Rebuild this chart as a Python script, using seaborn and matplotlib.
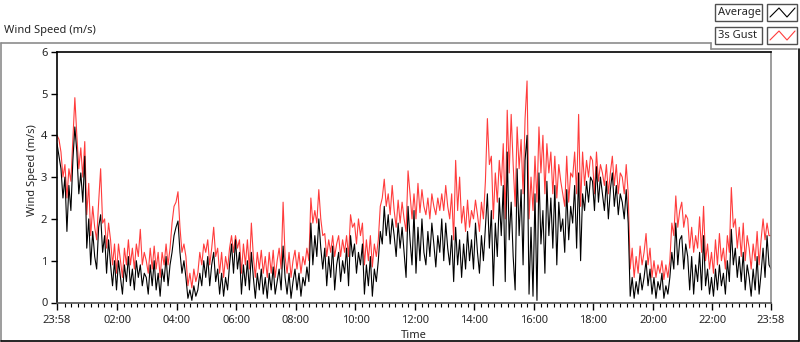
import matplotlib
matplotlib.use("Agg")
import matplotlib.pyplot as plt
from matplotlib.lines import Line2D
from matplotlib.patches import Rectangle
import seaborn as sns
import pandas as pd
import numpy as np

# wind speed samples, one every 4 minutes starting at 23:58 (m/s)
sample_step_min = 4

average = [
    3.8, 3.5, 3.2, 2.5, 3.0, 1.7, 2.8, 2.2, 3.4, 4.2, 3.6, 2.6, 3.1, 2.4, 3.5,
    1.3, 2.0, 0.9, 1.7, 1.1, 0.8, 1.8, 2.1, 1.2, 1.6, 0.7, 1.5, 0.9, 0.4, 1.0,
    0.3, 1.0, 0.6, 0.2, 0.9, 0.5, 1.1, 0.4, 0.8, 0.3, 1.0, 0.6, 0.9, 0.4, 0.7,
    0.6, 0.2, 0.9, 0.4, 1.0, 0.3, 0.7, 0.15, 0.8, 0.5, 1.1, 0.4, 0.9, 1.2, 1.6,
    1.8, 1.95, 1.2, 0.7, 1.0, 0.6, 0.1, 0.3, 0.05, 0.4, 0.15, 0.3, 0.7, 0.4, 1.0,
    0.6, 1.1, 0.4, 0.9, 1.2, 0.5, 0.8, 0.2, 0.7, 0.15, 0.6, 0.3, 0.9, 1.4, 0.7,
    1.5, 0.8, 1.2, 0.2, 0.9, 0.4, 1.0, 0.3, 1.2, 0.6, 0.1, 0.7, 0.3, 0.8, 0.2,
    0.6, 0.1, 0.7, 0.3, 0.85, 0.2, 0.5, 0.8, 0.3, 1.35, 0.6, 0.2, 0.7, 0.1, 0.5,
    0.8, 0.3, 0.7, 0.15, 0.6, 0.4, 0.85, 0.5, 1.9, 0.9, 1.6, 1.1, 2.0, 1.3, 0.8,
    1.3, 0.4, 1.1, 0.6, 1.35, 0.3, 0.9, 1.2, 0.5, 1.0, 0.7, 1.3, 0.4, 1.6, 1.1,
    1.4, 0.7, 1.2, 0.9, 1.4, 0.2, 0.9, 0.4, 1.1, 0.15, 0.8, 0.5, 1.0, 1.7, 1.4,
    2.3, 1.6, 2.1, 1.4, 2.0, 1.6, 1.1, 1.9, 1.3, 1.8, 1.2, 0.6, 2.3, 1.5, 0.9,
    2.2, 0.7, 1.8, 1.0, 2.0, 1.2, 0.9, 1.7, 1.1, 1.9, 1.4, 0.85, 1.6, 1.2, 2.0,
    1.0, 1.9, 1.3, 0.9, 1.6, 0.5, 1.8, 0.9, 1.5, 0.6, 1.4, 0.8, 1.7, 1.0, 1.5,
    0.8, 1.9, 1.2, 0.7, 1.6, 1.0, 1.8, 2.6, 1.3, 2.2, 0.4, 1.9, 1.1, 2.5, 1.6,
    2.8, 0.5, 3.6, 1.5, 2.4, 1.1, 0.3, 3.2, 1.6, 2.7, 0.9, 3.4, 4.0, 0.2, 1.8,
    0.15, 2.6, 0.05, 3.1, 1.4, 2.2, 0.7, 2.9, 1.6, 2.5, 1.3, 2.8, 0.9, 2.4, 1.7,
    2.0, 1.2, 2.7, 1.5, 2.3, 1.9, 2.8, 1.3, 3.1, 1.0, 2.6, 2.2, 2.9, 2.4, 3.0,
    2.9, 2.2, 3.25, 2.4, 3.0, 2.6, 2.2, 2.9, 2.0, 2.7, 3.1, 2.3, 2.8, 2.1, 2.6,
    2.4, 2.0, 2.7, 1.9, 0.15, 0.6, 0.1, 0.5, 0.2, 0.7, 0.3, 0.6, 1.0, 0.4, 0.8,
    0.2, 0.6, 0.1, 0.5, 0.3, 0.7, 0.1, 0.4, 0.2, 0.6, 1.2, 0.8, 1.9, 0.9, 1.5,
    1.6, 0.8, 1.4, 1.1, 0.3, 1.1, 0.2, 0.9, 0.5, 1.2, 0.3, 1.6, 0.4, 0.8, 0.2,
    0.6, 0.15, 0.8, 0.3, 0.9, 0.4, 0.7, 0.2, 1.0, 0.5, 1.75, 0.9, 1.3, 0.6, 1.1,
    0.5, 1.2, 0.3, 0.9, 0.6, 0.15, 0.8, 0.3, 1.1, 0.2, 0.7, 1.3, 0.6, 1.6, 0.9,
    0.8,
]

gust = [
    4.0, 3.9, 3.6, 3.0, 3.3, 2.5, 3.2, 2.9, 3.9, 4.9, 4.0, 3.2, 3.7, 3.0, 3.85,
    2.1, 2.85, 1.6, 2.3, 1.8, 1.5, 2.4, 3.2, 1.9, 2.0, 1.3, 1.9, 1.5, 0.9, 1.4,
    0.7, 1.4, 1.0, 0.6, 1.3, 0.9, 1.5, 0.9, 1.3, 0.8, 1.4, 1.1, 1.75, 0.9, 1.2,
    1.0, 0.7, 1.3, 0.8, 1.35, 0.8, 1.2, 0.6, 1.2, 0.9, 1.4, 0.9, 1.3, 1.9, 2.3,
    2.4, 2.65, 1.8, 1.2, 1.4, 1.1, 0.4, 0.7, 0.35, 0.8, 0.5, 0.7, 1.2, 0.9, 1.4,
    1.2, 1.5, 0.9, 1.3, 1.8, 1.1, 1.3, 0.7, 1.2, 0.6, 1.1, 0.8, 1.3, 1.6, 1.2,
    1.6, 1.3, 1.5, 0.7, 1.4, 0.9, 1.5, 0.8, 1.9, 1.1, 0.6, 1.2, 0.8, 1.25, 0.7,
    1.1, 0.6, 1.2, 0.7, 1.25, 0.6, 1.0, 1.3, 0.8, 2.4, 1.1, 0.7, 1.2, 0.6, 1.0,
    1.25, 0.8, 1.2, 0.7, 1.1, 0.9, 1.3, 1.0, 2.5, 1.9, 2.2, 1.9, 2.7, 2.0, 1.6,
    1.65, 1.1, 1.5, 1.2, 1.6, 1.1, 1.4, 1.6, 1.1, 1.5, 1.2, 1.6, 1.1, 2.1, 1.8,
    1.9, 1.4, 2.0, 1.6, 1.9, 0.9, 1.5, 1.0, 1.6, 0.85, 1.4, 1.1, 1.5, 2.3, 2.5,
    2.95, 2.3, 2.6, 2.1, 2.8, 2.2, 1.8, 2.45, 1.9, 2.4, 2.0, 1.7, 3.15, 2.6, 2.0,
    2.6, 2.0, 2.85, 2.15, 2.7, 2.3, 2.1, 2.5, 2.0, 2.6, 2.3, 2.1, 2.5, 2.2, 2.6,
    2.2, 2.8, 2.3, 2.0, 2.6, 1.5, 3.4, 2.2, 3.0, 1.9, 2.3, 1.7, 2.45, 1.8, 2.2,
    2.0, 2.45, 2.1, 1.7, 2.4, 2.0, 2.9, 4.4, 3.3, 3.5, 2.0, 3.1, 2.4, 3.4, 2.8,
    3.8, 2.0, 4.6, 3.1, 4.5, 3.3, 2.3, 4.2, 3.2, 3.9, 2.6, 4.4, 5.3, 2.0, 3.0,
    2.2, 3.5, 2.4, 4.2, 3.1, 4.0, 2.6, 3.8, 3.1, 3.6, 2.6, 3.5, 2.5, 3.3, 2.9,
    2.6, 2.3, 3.5, 2.4, 3.1, 3.0, 3.6, 2.6, 4.5, 2.3, 3.6, 2.8, 3.4, 3.0, 3.5,
    3.4, 2.6, 3.6, 2.9, 3.3, 3.1, 2.8, 3.3, 2.6, 3.1, 3.5, 2.8, 3.3, 2.6, 3.1,
    3.0, 2.6, 3.3, 2.6, 0.8, 1.3, 0.6, 1.1, 0.7, 1.35, 0.9, 1.2, 1.65, 0.9, 1.3,
    0.6, 1.0, 0.6, 0.9, 0.7, 1.0, 0.55, 0.9, 0.6, 1.0, 1.9, 1.6, 2.55, 1.8, 2.2,
    2.4, 1.8, 2.1, 2.0, 1.3, 1.8, 1.2, 1.6, 1.3, 2.05, 1.2, 2.3, 1.0, 1.4, 0.8,
    1.2, 0.7, 1.5, 0.9, 1.65, 1.0, 1.3, 0.8, 1.6, 1.2, 2.75, 1.8, 2.0, 1.3, 1.8,
    1.1, 1.9, 1.0, 1.6, 1.3, 0.8, 1.4, 1.0, 1.7, 0.9, 1.5, 2.0, 1.5, 1.9, 1.6,
    1.6,
]

start_label = '23:58'
tick_labels = ['23:58', '02:00', '04:00', '06:00', '08:00', '10:00', '12:00',
               '14:00', '16:00', '18:00', '20:00', '22:00', '23:58']
y_ticks = [0, 1, 2, 3, 4, 5, 6]

W, H = 800, 342


def fig_xy(x, y):
    # pixel position (from top-left) -> figure fraction
    return x / W, 1 - y / H


def to_hours(label, first=False):
    h, m = map(int, label.split(':'))
    sh, sm = map(int, start_label.split(':'))
    diff = ((h * 60 + m) - (sh * 60 + sm)) % 1440
    if diff == 0 and not first:
        diff = 1440
    return diff / 60


hours = np.arange(len(average)) * sample_step_min / 60
df = pd.DataFrame({'hours': hours, 'Average': average, '3s Gust': gust})

sns.set_style('white')
plt.rcParams['font.family'] = ['Noto Sans', 'DejaVu Sans']

fig = plt.figure(figsize=(W / 100, H / 100), dpi=100)
ax = fig.add_axes([57 / W, 1 - 302.5 / H, 714 / W, (302.5 - 51.7) / H])

sns.lineplot(data=df, x='hours', y='3s Gust', color='#ff3c3c', lw=0.8,
             estimator=None, ax=ax, legend=False)
sns.lineplot(data=df, x='hours', y='Average', color='black', lw=0.8,
             estimator=None, ax=ax, legend=False)

ax.set_xlim(0, 24)
ax.set_ylim(0, 6)

tick_pos = [to_hours(l, first=(i == 0)) for i, l in enumerate(tick_labels)]
ax.set_xticks(tick_pos)
ax.set_xticklabels(tick_labels, fontsize=8)
minor = np.arange(tick_pos[1], 24, 2 / 9)
minor = np.concatenate([np.arange(tick_pos[1], 0, -2 / 9), minor])
ax.set_xticks([m for m in minor if 0.05 < m < 23.95], minor=True)
ax.set_yticks(y_ticks)
ax.set_yticklabels([str(v) for v in y_ticks], fontsize=8)

ax.tick_params(axis='x', which='major', direction='out', length=5, width=1,
               color='black', pad=4)
ax.tick_params(axis='x', which='minor', direction='out', length=3, width=0.8,
               color='black')
ax.tick_params(axis='y', direction='out', length=4, width=1, color='black', pad=3)
ax.tick_params(bottom=True, left=True, which='both')

for side, col in [('top', 'black'), ('left', 'black'),
                  ('right', '#8c8c8c'), ('bottom', '#505050')]:
    ax.spines[side].set_visible(True)
    ax.spines[side].set_color(col)
    ax.spines[side].set_linewidth(1.2)

ax.set_xlabel('Time', fontsize=8, labelpad=3)
ax.set_ylabel('Wind Speed (m/s)', fontsize=8)
ax.yaxis.set_label_coords(-(57 - 38) / 714, 0.53)

# panel frame
frame = [((0.5, 42.5), (711, 42.5), '#8c8c8c'),
         ((711, 42.5), (711, 49), '#8c8c8c'),
         ((711, 49), (797, 49), '#8c8c8c'),
         ((0.5, 42.5), (0.5, 340.5), '#8c8c8c'),
         ((798.5, 49), (798.5, 341), 'black'),
         ((0.5, 340.5), (798.5, 340.5), 'black')]
for p0, p1, col in frame:
    a, b = fig_xy(*p0), fig_xy(*p1)
    fig.add_artist(Line2D([a[0], b[0]], [a[1], b[1]], color=col, lw=1.2,
                          transform=fig.transFigure))

fig.text(*fig_xy(4, 31), 'Wind Speed (m/s)', fontsize=8, ha='left', va='center')

# legend boxes
for i, (name, col) in enumerate([('Average', 'black'), ('3s Gust', '#ff3c3c')]):
    top = 4 + i * 23
    x0, y0 = fig_xy(715, top + 17)
    fig.add_artist(Rectangle((x0, y0), 47 / W, 17 / H, transform=fig.transFigure,
                             facecolor='white', edgecolor='#505050', lw=1))
    x0, y0 = fig_xy(767, top + 17)
    fig.add_artist(Rectangle((x0, y0), 30 / W, 17 / H, transform=fig.transFigure,
                             facecolor='white', edgecolor='#505050', lw=1))
    fig.text(*fig_xy(718, top + 8.5), name, fontsize=8, ha='left', va='center')
    zig = [fig_xy(770, top + 13), fig_xy(779, top + 4), fig_xy(787, top + 13),
           fig_xy(795, top + 4)]
    fig.add_artist(Line2D([p[0] for p in zig], [p[1] for p in zig], color=col,
                          lw=0.8, transform=fig.transFigure))

fig.savefig('out.png', dpi=100)
